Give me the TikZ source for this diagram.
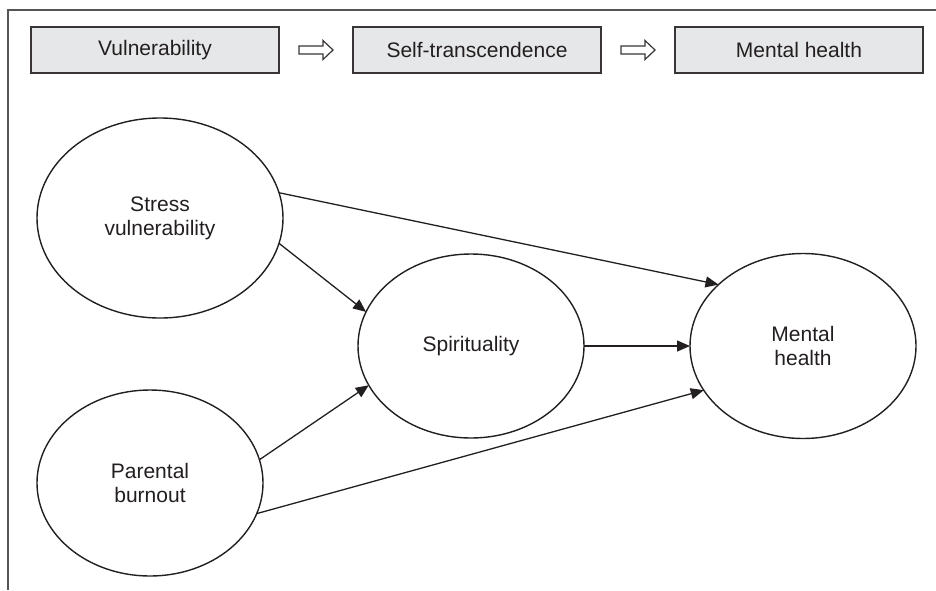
\documentclass[tikz,border=0pt]{standalone}
\usepackage{fontspec}
\setmainfont{Liberation Sans}
\usetikzlibrary{shapes.geometric,arrows.meta}
\definecolor{boxfill}{HTML}{E6E7E8}
\definecolor{ink}{HTML}{231F20}
\definecolor{framec}{HTML}{555555}
\begin{document}
\begin{tikzpicture}[x=1pt,y=-1pt,
  every node/.style={font=\fontsize{21}{24}\selectfont, text=ink},
  hdr/.style={draw=ink!90, line width=1.5pt, fill=boxfill, minimum width=248pt, minimum height=46pt, inner sep=0pt, outer sep=0pt},
  oval/.style={ellipse, draw=ink, line width=1.4pt, inner sep=0pt, outer sep=0pt, align=center},
  link/.style={draw=ink, line width=1.3pt, -{Triangle[length=13pt,width=11pt]}},
  hollow/.style={draw=ink!90, line width=1.2pt, fill=white, line join=miter}
]
\useasboundingbox (0,0) rectangle (936,590);
% frame
\draw[framec, line width=1.3pt] (936,10) -- (8,10) -- (8,590);
% header boxes
\node[hdr] (b1) at (155,50) {Vulnerability};
\node[hdr] (b2) at (477,50) {Self-transcendence};
\node[hdr] (b3) at (799,50) {Mental health};
\path (b1.east) -- (b2.west) coordinate[midway] (m1);
\path (b2.east) -- (b3.west) coordinate[midway] (m2);
\foreach \m in {m1,m2}{
  \draw[hollow] (\m) ++(-17,-4) -- ++(24,0) -- ++(0,-5.5) -- ++(10,9.5) -- ++(-10,9.5) -- ++(0,-5.5) -- ++(-24,0) -- cycle;
}
% ellipses
\node[oval, minimum width=246pt, minimum height=200pt] (sv) at (160,218) {Stress\\vulnerability};
\node[oval, minimum width=226pt, minimum height=186pt] (pb) at (150,483) {Parental\\burnout};
\node[oval, minimum width=226pt, minimum height=184pt] (sp) at (471,346) {Spirituality};
\node[oval, minimum width=226pt, minimum height=185pt] (mh) at (803,346) {Mental\\health};
% connectors
\draw[link] (sv.12) -- (mh.144);
\draw[link] (sv.-12) -- (sp.162);
\draw[link] (sp.0) -- (mh.180);
\draw[link] (pb.12) -- (sp.201);
\draw[link] (pb.-16) -- (mh.-156);
\end{tikzpicture}
\end{document}
